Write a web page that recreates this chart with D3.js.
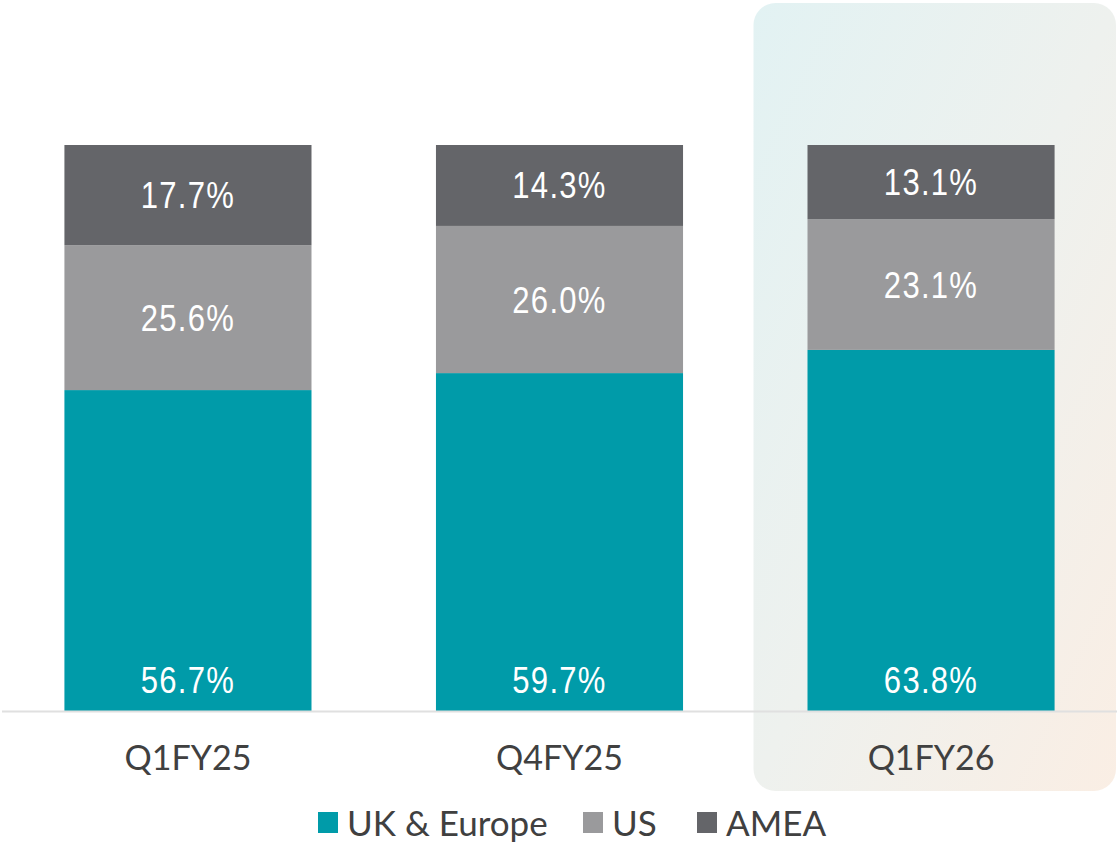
<!DOCTYPE html>
<html>
<head>
<meta charset="utf-8">
<script src="https://cdn.jsdelivr.net/npm/d3@7"></script>
<style>
  body { margin: 0; background: #fff; }
  svg { display: block; }
</style>
</head>
<body>
<div id="chart"></div>
<script>
"use strict";

// quarters and regional share (%)
var quarters = ["Q1FY25", "Q4FY25", "Q1FY26"];
var regions = ["UK & Europe", "US", "AMEA"];
var ukEurope = [56.7, 59.7, 63.8];
var us = [25.6, 26.0, 23.1];
var amea = [17.7, 14.3, 13.1];
var colors = ["#009ba9", "#9a9a9c", "#646569"];

var width = 1117, height = 845;

var svg = d3.select("#chart").append("svg")
	.attr("width", width)
	.attr("height", height);

// highlight gradient for the latest quarter
var grad = svg.append("defs").append("linearGradient")
	.attr("id", "hl")
	.attr("x1", "0%").attr("y1", "0%")
	.attr("x2", "100%").attr("y2", "100%");
grad.append("stop").attr("offset", "0%").attr("stop-color", "#e2f2f3");
grad.append("stop").attr("offset", "50%").attr("stop-color", "#eef1ee");
grad.append("stop").attr("offset", "100%").attr("stop-color", "#faeee4");

var x = d3.scaleBand()
	.domain(quarters)
	.range([2, 1117])
	.paddingInner(0.335)
	.paddingOuter(0.168);

var y = d3.scaleLinear()
	.domain([0, 100])
	.range([711, 145]);

// table for the stack
var table = quarters.map(function (q, i) {
	return { q: q, "UK & Europe": ukEurope[i], "US": us[i], "AMEA": amea[i] };
});
var series = d3.stack().keys(regions)(table);

var hx = x("Q1FY26") - 54;
svg.append("rect")
	.attr("x", hx)
	.attr("y", 3)
	.attr("width", 1116 - hx)
	.attr("height", 788)
	.attr("rx", 22)
	.attr("fill", "url(#hl)");

var groups = svg.selectAll("g.series")
	.data(series)
	.enter().append("g")
	.attr("class", "series")
	.attr("fill", function (d, i) { return colors[i]; });

groups.selectAll("rect")
	.data(function (d) { return d; })
	.enter().append("rect")
	.attr("x", function (d) { return x(d.data.q); })
	.attr("y", function (d) { return y(d[1]); })
	.attr("width", x.bandwidth())
	.attr("height", function (d) { return y(d[0]) - y(d[1]); });

// value labels - UK sits at bottom of bar, others centred
// the original font is a narrow one, so squeeze horizontally
groups.each(function (s, si) {
	d3.select(this).selectAll("text")
		.data(s)
		.enter().append("text")
		.attr("transform", function (d) {
			var tx = x(d.data.q) + x.bandwidth() / 2;
			var ty = si === 0 ? y(0) - 18 : (y(d[0]) + y(d[1])) / 2 + 13;
			return "translate(" + tx + "," + ty + ") scale(0.84,1)";
		})
		.attr("text-anchor", "middle")
		.attr("fill", "#fff")
		.style("font-family", "'Liberation Sans', Arial, sans-serif")
		.style("font-size", "37px")
		.style("letter-spacing", "1.5px")
		.text(function (d) { return (d[1] - d[0]).toFixed(1) + "%"; });
});

// baseline
svg.append("line")
	.attr("x1", 2).attr("x2", width)
	.attr("y1", 711.5).attr("y2", 711.5)
	.attr("stroke", "#e0e0e0")
	.attr("stroke-width", 2);

// category labels
svg.selectAll("text.cat")
	.data(quarters)
	.enter().append("text")
	.attr("class", "cat")
	.attr("x", function (d) { return x(d) + x.bandwidth() / 2; })
	.attr("y", 770)
	.attr("text-anchor", "middle")
	.attr("fill", "#404040")
	.style("font-family", "Lato, sans-serif")
	.style("font-size", "34px")
	.text(function (d) { return d; });

// legend
var legX = [318, 583, 697];
var leg = svg.selectAll("g.leg")
	.data(regions)
	.enter().append("g")
	.attr("class", "leg")
	.attr("transform", function (d, i) { return "translate(" + legX[i] + ",812)"; });
leg.append("rect")
	.attr("width", 20).attr("height", 21)
	.attr("fill", function (d, i) { return colors[i]; });
leg.append("text")
	.attr("x", 29)
	.attr("y", 24)
	.attr("fill", "#404040")
	.style("font-family", "Lato, sans-serif")
	.style("font-size", "35px")
	.text(function (d) { return d; });
</script>
</body>
</html>
